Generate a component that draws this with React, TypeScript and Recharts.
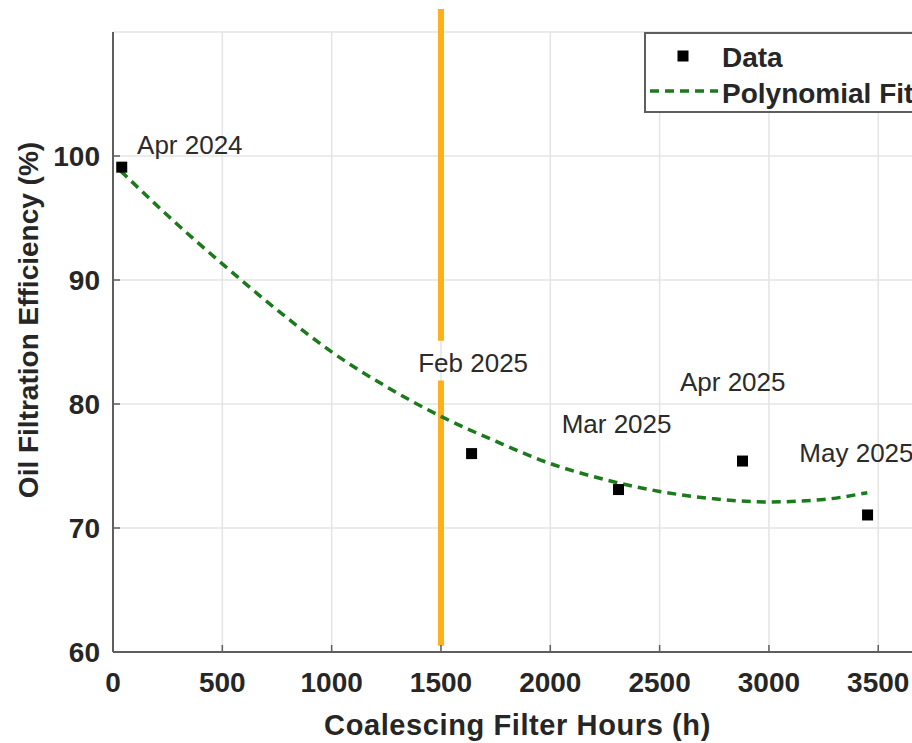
import {
  ComposedChart,
  CartesianGrid,
  Line,
  ReferenceLine,
  Scatter,
  XAxis,
  YAxis,
} from "recharts";

const FONT = "'Liberation Sans', Arial, Helvetica, sans-serif";

// measured points (hours, efficiency %)
const dates = ["Apr 2024", "Feb 2025", "Mar 2025", "Apr 2025", "May 2025"];
const hours = [40, 1640, 2312, 2879, 3451];
const efficiency = [99.1, 76.0, 73.1, 75.4, 71.05];

// where each date annotation sits, in data units (text baseline, left edge)
const noteHours = [110, 1396, 2052, 2593, 3139];
const noteEff = [100.14, 82.58, 77.68, 81.05, 75.35];

// polynomial fit curve
const fitHours = [35, 250, 500, 750, 1000, 1250, 1500, 1750, 2000, 2250, 2500, 2750, 3000, 3250, 3450];
const fitEff = [98.8, 95.2, 91.3, 87.6, 84.2, 81.4, 79.0, 77.0, 75.2, 73.9, 72.95, 72.35, 72.1, 72.3, 72.85];

const xTicks = [0, 500, 1000, 1500, 2000, 2500, 3000, 3500];
const yTicks = [60, 70, 80, 90, 100];

const legendNames = ["Data", "Polynomial Fit"];

const markerLine = 1500;

const points = hours.map((x, i) => ({ x, y: efficiency[i] }));
const notes = dates.map((label, i) => ({ x: noteHours[i], y: noteEff[i], label }));
const fit = fitHours.map((x, i) => ({ x, y: fitEff[i] }));

const AXIS = "#5e5e5e";
const GREEN = "#1b7a1b";
const ORANGE = "#FBB117";
const TEXT = "#262626";

function XTick({ x, y, payload }: any) {
  return (
    <g>
      <line x1={x} x2={x} y1={y} y2={y - 7} stroke={AXIS} strokeWidth={1.5} />
      <text
        x={x}
        y={y + 30}
        textAnchor="middle"
        dominantBaseline="central"
        fontSize={28}
        fontWeight="bold"
        fontFamily={FONT}
        fill={TEXT}
      >
        {payload.value}
      </text>
    </g>
  );
}

function TopTick({ x, y }: any) {
  return <line x1={x} x2={x} y1={y} y2={y + 7} stroke={AXIS} strokeWidth={1.5} />;
}

function YTick({ x, y, payload }: any) {
  return (
    <g>
      <line x1={x} x2={x + 7} y1={y} y2={y} stroke={AXIS} strokeWidth={1.5} />
      <text
        x={x - 13}
        y={y}
        textAnchor="end"
        dominantBaseline="central"
        fontSize={28}
        fontWeight="bold"
        fontFamily={FONT}
        fill={TEXT}
      >
        {payload.value}
      </text>
    </g>
  );
}

function SquareDot({ cx, cy }: any) {
  return <rect x={cx - 5.5} y={cy - 5.5} width={11} height={11} fill="#000" />;
}

function NoteText({ cx, cy, payload }: any) {
  return (
    <text x={cx} y={cy} fontSize={26} fontFamily={FONT} fill="#2b2b2b">
      {payload.label}
    </text>
  );
}

function LegendBox() {
  return (
    <svg
      width={290}
      height={82}
      style={{ position: "absolute", left: 644, top: 32, fontFamily: FONT }}
    >
      <rect x={1} y={1} width={300} height={79} fill="#fff" stroke={AXIS} strokeWidth={2} />
      <rect x={33.5} y={18.5} width={11} height={11} fill="#000" />
      <text x={78} y={25} dominantBaseline="central" fontSize={28} fontWeight="bold" fill={TEXT}>
        {legendNames[0]}
      </text>
      <line x1={6} x2={74} y1={59} y2={59} stroke={GREEN} strokeWidth={3.5} strokeDasharray="9 6" />
      <text x={78} y={61} dominantBaseline="central" fontSize={28} fontWeight="bold" fill={TEXT}>
        {legendNames[1]}
      </text>
    </svg>
  );
}

export default function App() {
  return (
    <div
      style={{
        position: "absolute",
        left: 0,
        top: 0,
        width: 912,
        height: 743,
        overflow: "hidden",
        background: "#fff",
      }}
    >
      <ComposedChart
        width={930}
        height={743}
        margin={{ top: 32, right: 8, bottom: 0, left: 0 }}
      >
        <CartesianGrid stroke="#e4e4e4" strokeWidth={1.5} />
        <XAxis
          dataKey="x"
          type="number"
          domain={[0, 3700]}
          ticks={xTicks}
          height={91}
          tickSize={0}
          tickMargin={0}
          tick={<XTick />}
          axisLine={{ stroke: AXIS, strokeWidth: 2 }}
          allowDataOverflow
          label={() => (
            <text
              x={517.5}
              y={735}
              textAnchor="middle"
              fontSize={29}
              fontWeight="bold"
              letterSpacing={0.6}
              fontFamily={FONT}
              fill={TEXT}
            >
              Coalescing Filter Hours (h)
            </text>
          )}
        />
        <XAxis
          xAxisId="top"
          orientation="top"
          dataKey="x"
          type="number"
          domain={[0, 3700]}
          ticks={xTicks}
          height={0}
          tickSize={0}
          tickMargin={0}
          tick={<TopTick />}
          axisLine={{ stroke: AXIS, strokeWidth: 2 }}
          allowDataOverflow
        />
        <YAxis
          type="number"
          domain={[60, 110]}
          ticks={yTicks}
          width={113}
          tickSize={0}
          tickMargin={0}
          tick={<YTick />}
          axisLine={{ stroke: AXIS, strokeWidth: 2 }}
          allowDataOverflow
          label={() => (
            <text
              x={28}
              y={320}
              transform="rotate(-90 28 320)"
              textAnchor="middle"
              dominantBaseline="central"
              fontSize={28}
              fontWeight="bold"
              fontFamily={FONT}
              fill={TEXT}
            >
              Oil Filtration Efficiency (%)
            </text>
          )}
        />
        <ReferenceLine
          segment={[
            { x: markerLine, y: 111.85 },
            { x: markerLine, y: 85.1 },
          ]}
          stroke={ORANGE}
          strokeWidth={6}
          ifOverflow="visible"
        />
        <ReferenceLine
          segment={[
            { x: markerLine, y: 81.9 },
            { x: markerLine, y: 60.5 },
          ]}
          stroke={ORANGE}
          strokeWidth={6}
          ifOverflow="visible"
        />
        <Line
          data={fit}
          dataKey="y"
          type="monotone"
          stroke={GREEN}
          strokeWidth={3.5}
          strokeDasharray="9 6"
          dot={false}
          activeDot={false}
          isAnimationActive={false}
        />
        <Scatter data={points} dataKey="y" shape={<SquareDot />} isAnimationActive={false} />
        <Scatter data={notes} dataKey="y" shape={<NoteText />} isAnimationActive={false} />
      </ComposedChart>
      <LegendBox />
    </div>
  );
}
